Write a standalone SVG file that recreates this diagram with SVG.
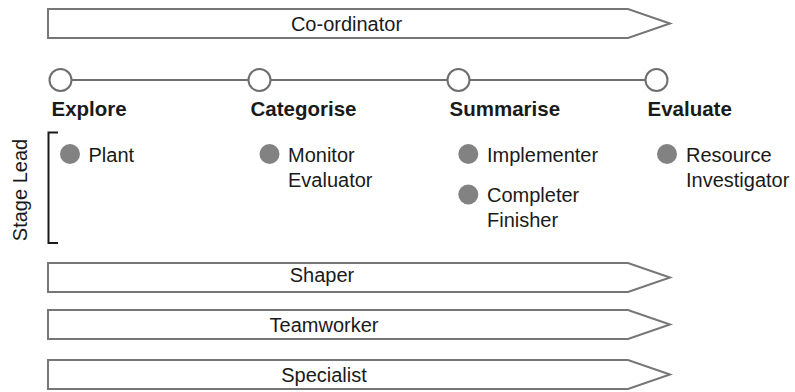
<svg xmlns="http://www.w3.org/2000/svg" width="795" height="392" viewBox="0 0 795 392">
  <style>
    text { font-family: "Liberation Sans", Arial, sans-serif; font-size: 20px; fill: #1a1a1a; }
    .band { fill: #ffffff; stroke: #767676; stroke-width: 2; stroke-linejoin: miter; }
    .stage { font-weight: bold; font-size: 20.5px; }
    .mid { text-anchor: middle; }
    .dot { fill: #828282; }
    .milestone { fill: #ffffff; stroke: #6e6e6e; stroke-width: 2; }
    .track { stroke: #6e6e6e; stroke-width: 2; fill: none; }
    .bracket { stroke: #1a1a1a; stroke-width: 2; fill: none; }
  </style>
  <defs>
    <!-- pentagon arrow band, 29px tall, drawn at the origin -->
    <polygon id="band" class="band" points="48,0 628,0 670,14.5 628,29 48,29"/>
  </defs>

  <!-- full-width roles -->
  <g id="coordinator">
    <use href="#band" y="9"/>
    <text class="mid" x="346.5" y="30.5">Co-ordinator</text>
  </g>

  <!-- stage timeline -->
  <g id="connectors">
    <line class="track" x1="60" y1="80" x2="657" y2="80"/>
  </g>
  <g id="stage-explore">
    <circle class="milestone" cx="60.5" cy="80" r="11"/>
    <text class="stage" x="51.5" y="115.5">Explore</text>
  </g>
  <g id="stage-categorise">
    <circle class="milestone" cx="259.5" cy="80" r="11"/>
    <text class="stage" x="250.5" y="115.5">Categorise</text>
  </g>
  <g id="stage-summarise">
    <circle class="milestone" cx="458.5" cy="80" r="11"/>
    <text class="stage" x="449.5" y="115.5">Summarise</text>
  </g>
  <g id="stage-evaluate">
    <circle class="milestone" cx="656.5" cy="80" r="11"/>
    <text class="stage" x="647.5" y="115.5">Evaluate</text>
  </g>

  <!-- stage lead bracket -->
  <g id="stage-lead">
    <path class="bracket" d="M58,132.5 H48.5 V243 H58"/>
    <text class="mid" transform="translate(27,190) rotate(-90)">Stage Lead</text>
  </g>

  <!-- stage leads -->
  <g id="lead-plant">
    <circle class="dot" cx="70" cy="154" r="10"/>
    <text x="88.5" y="161.5">Plant</text>
  </g>
  <g id="lead-monitor-evaluator">
    <circle class="dot" cx="269.5" cy="154" r="10"/>
    <text x="288" y="161.5">Monitor</text>
    <text x="288" y="187">Evaluator</text>
  </g>
  <g id="lead-implementer">
    <circle class="dot" cx="468.3" cy="154" r="10"/>
    <text x="487" y="161.5">Implementer</text>
  </g>
  <g id="lead-completer-finisher">
    <circle class="dot" cx="468.3" cy="194.5" r="10"/>
    <text x="487" y="202">Completer</text>
    <text x="487" y="226.5">Finisher</text>
  </g>
  <g id="lead-resource-investigator">
    <circle class="dot" cx="667" cy="154" r="10"/>
    <text x="686" y="161.5">Resource</text>
    <text x="686" y="187">Investigator</text>
  </g>

  <!-- full-width roles -->
  <g id="shaper">
    <use href="#band" y="263"/>
    <text class="mid" x="322" y="282">Shaper</text>
  </g>
  <g id="teamworker">
    <use href="#band" y="310"/>
    <text class="mid" x="324" y="331.5">Teamworker</text>
  </g>
  <g id="specialist">
    <use href="#band" y="360"/>
    <text class="mid" x="324" y="381.5">Specialist</text>
  </g>
</svg>
